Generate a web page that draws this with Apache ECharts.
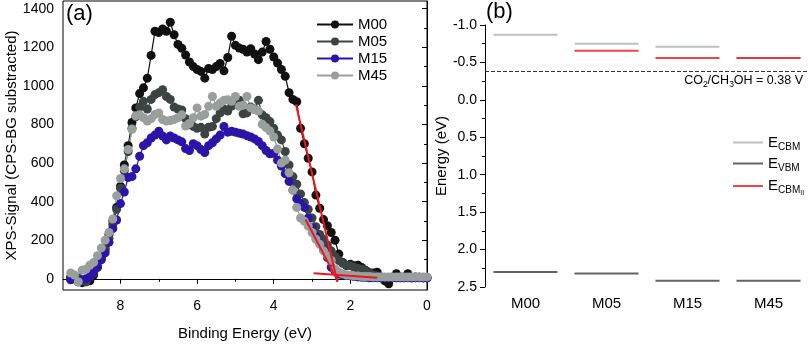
<!DOCTYPE html>
<html>
<head>
<meta charset="utf-8">
<script src="https://cdn.jsdelivr.net/npm/echarts@6/dist/echarts.min.js"></script>
<style>
  html, body { margin: 0; padding: 0; background: #fff; }
  #chart { width: 810px; height: 346px; }
</style>
</head>
<body>
<div id="chart"></div>
<script>
// panel (a): XPS valence band spectra
const energy = [
  9.3, 9.2, 9.1, 9.0, 8.9, 8.8, 8.7, 8.6, 8.5, 8.4,
  8.3, 8.2, 8.1, 8.0, 7.9, 7.8, 7.7, 7.6, 7.5, 7.4,
  7.3, 7.2, 7.1, 7.0, 6.9, 6.8, 6.7, 6.6, 6.5, 6.4,
  6.3, 6.2, 6.1, 6.0, 5.9, 5.8, 5.7, 5.6, 5.5, 5.4,
  5.3, 5.2, 5.1, 5.0, 4.9, 4.8, 4.7, 4.6, 4.5, 4.4,
  4.3, 4.2, 4.1, 4.0, 3.9, 3.8, 3.7, 3.6, 3.5, 3.4,
  3.3, 3.2, 3.1, 3.0, 2.9, 2.8, 2.7, 2.6, 2.5, 2.4,
  2.3, 2.2, 2.1, 2.0, 1.9, 1.8, 1.7, 1.6, 1.5, 1.4,
  1.3, 1.2, 1.1, 1.0, 0.9, 0.8, 0.7, 0.6, 0.5, 0.4,
  0.3, 0.2, 0.1, 0.0
];
const m00 = [
  10, 0, -15, -20, -15, -10, 20, 60, 110, 160,
  230, 300, 370, 480, 590, 690, 810, 886, 960, 990,
  1040, 1158, 1283, 1277, 1295, 1283, 1330, 1265, 1215, 1195,
  1160, 1124, 1100, 1085, 1075, 1040, 1090, 1085, 1100, 1116,
  1078, 1147, 1257, 1210, 1196, 1190, 1175, 1193, 1165, 1136,
  1175, 1230, 1190, 1150, 1118, 1085, 1050, 965, 930, 918,
  780, 700, 625, 554, 434, 366, 307, 275, 240, 200,
  128, 85, 68, 75, 68, 70, 58, 43, 32, 30,
  34, 5, -10, -26, 8, 26, 5, 10, 26, 5,
  10, 8, 5, 5
];
const m05 = [
  0, 10, 5, -10, -15, 10, 30, 60, 100, 150,
  210, 280, 360, 470, 560, 660, 780, 840, 890, 920,
  880, 930, 955, 965, 980, 945, 930, 890, 880, 875,
  830, 800, 790, 780, 785, 750, 785, 790, 830, 860,
  880, 870, 895, 905, 925, 855, 860, 890, 880, 925,
  850, 835, 815, 780, 745, 720, 660, 590, 530, 490,
  440, 395, 360, 315, 270, 230, 205, 175, 145, 115,
  95, 80, 70, 68, 60, 55, 50, 40, 30, 20,
  15, 10, 5, 5, 8, 5, 10, 5, 8, 5,
  5, 8, 5, 5
];
const m15 = [
  -5, 0, -15, -5, 0, 10, 35, 65, 100, 135,
  190, 260, 305, 390, 450, 525, 530, 570, 635, 690,
  705, 730, 745, 765, 740, 720, 740, 730, 720, 710,
  675, 665, 700, 690, 670, 655, 690, 705, 725, 745,
  790, 760, 765, 760, 755, 750, 742, 735, 725, 712,
  690, 665, 648, 650, 615, 585, 545, 505, 460, 415,
  390, 370, 315, 265, 220, 185, 150, 110, 60, 40,
  25, 20, 17, 15, 12, 10, 8, 8, 5, 5,
  5, 5, 5, 5, 5, 5, 5, 5, 5, 5,
  5, 5, 5, 5
];
const m45 = [
  30, 20, -15, 45, 50, 70, 85, 120, 160, 200,
  240, 310, 430, 520, 570, 670, 775, 845, 850, 835,
  818, 830, 852, 860, 826, 818, 820, 826, 835, 850,
  792, 805, 835, 886, 843, 852, 894, 945, 894, 911,
  925, 928, 920, 945, 894, 900, 945, 886, 877, 870,
  801, 784, 766, 735, 673, 600, 615, 550, 460, 370,
  315, 298, 273, 240, 205, 179, 145, 120, 95, 51,
  35, 26, 20, 18, 15, 15, 12, 12, 12, 10,
  10, 10, 10, 10, 10, 10, 10, 10, 10, 10,
  10, 10, 10, 10
];
// linear fits for the band edges
const fitEdge1 = [[3.42, 903], [2.34, -17]];
const fitEdge2 = [[3.17, 307], [2.33, -12]];
const fitBase = [[2.96, 29], [1.30, 5]];

// panel (b): band positions
const samples = ['M00', 'M05', 'M15', 'M45'];
const eCBM = [-0.87, -0.75, -0.71, -0.56];
const eVBM = [2.30, 2.32, 2.415, 2.415];
const eCBM2 = ['-', -0.655, -0.56, -0.56];
const redox = -0.38;

const font = '"Liberation Sans", Arial, sans-serif';
const chart = echarts.init(document.getElementById('chart'));

const pairs = (ys) => energy.map((e, i) => [e, ys[i]]);
const spectrum = (name, ys, color) => ({
  name,
  type: 'line',
  xAxisIndex: 0,
  yAxisIndex: 0,
  data: pairs(ys),
  symbol: 'circle',
  symbolSize: 9,
  itemStyle: { color },
  lineStyle: { color, width: 1.2 },
});
const fit = (pts) => ({
  type: 'line',
  xAxisIndex: 0,
  yAxisIndex: 0,
  data: pts,
  symbol: 'none',
  lineStyle: { color: '#f2141a', width: 2 },
  z: 5,
});
const level = (name, ys, color) => ({
  name,
  type: 'scatter',
  xAxisIndex: 2,
  yAxisIndex: 2,
  data: ys,
  symbol: 'rect',
  symbolSize: [64, 2],
  itemStyle: { color },
});

const subRich = {
  a: { fontSize: 15, lineHeight: 18, fontFamily: font, color: '#000' },
  b: { fontSize: 10, lineHeight: 10, padding: [9, 0, 0, 0], fontFamily: font, color: '#000' },
  c: { fontSize: 7, lineHeight: 7, padding: [15, 0, 0, 0], fontFamily: font, color: '#000' },
};
const lbl = { fontFamily: font, color: '#000' };

chart.setOption({
  animation: false,
  textStyle: { fontFamily: font, color: '#000' },
  grid: [
    { left: 63, right: 383, top: 1, bottom: 53, show: true, borderColor: '#000', borderWidth: 1 },
    { left: 485, right: 1, top: 25, bottom: 59 },
  ],
  xAxis: [
    {
      gridIndex: 0,
      type: 'value',
      min: 0,
      max: 9.5,
      inverse: true,
      name: 'Binding Energy (eV)',
      nameLocation: 'middle',
      nameGap: 36,
      nameTextStyle: Object.assign({ fontSize: 15 }, lbl),
      axisLine: { lineStyle: { color: '#000' } },
      axisTick: { inside: false, length: 5, customValues: [0, 2, 4, 6, 8], lineStyle: { color: '#000' } },
      axisLabel: Object.assign({ customValues: [0, 2, 4, 6, 8], fontSize: 14, margin: 9 }, lbl),
      splitLine: { show: false },
    },
    {
      gridIndex: 0,
      type: 'value',
      position: 'bottom',
      min: 0,
      max: 9.5,
      inverse: true,
      axisLine: { show: false },
      axisTick: { length: 3, customValues: [1, 3, 5, 7, 9], lineStyle: { color: '#000' } },
      axisLabel: { show: false },
      splitLine: { show: false },
    },
    {
      gridIndex: 1,
      type: 'category',
      data: samples,
      axisLine: { show: false },
      axisTick: { show: false },
      axisLabel: Object.assign({ fontSize: 15, margin: 9 }, lbl),
      splitLine: { show: false },
    },
  ],
  yAxis: [
    {
      gridIndex: 0,
      type: 'value',
      min: -58,
      max: 1440,
      name: 'XPS-Signal (CPS-BG substracted)',
      nameLocation: 'middle',
      nameGap: 41,
      nameTextStyle: Object.assign({ fontSize: 15 }, lbl),
      axisLine: { show: true, lineStyle: { color: '#000' } },
      axisTick: { show: true, length: 5, customValues: [0, 200, 400, 600, 800, 1000, 1200, 1400], lineStyle: { color: '#000' } },
      axisLabel: Object.assign({
        customValues: [0, 200, 400, 600, 800, 1000, 1200, 1400],
        fontSize: 14,
        margin: 9,
        formatter: (v) => String(v),
      }, lbl),
      splitLine: { show: false },
    },
    {
      gridIndex: 0,
      type: 'value',
      position: 'left',
      min: -58,
      max: 1440,
      axisLine: { show: false },
      axisTick: { show: true, length: 3, customValues: [100, 300, 500, 700, 900, 1100, 1300], lineStyle: { color: '#000' } },
      axisLabel: { show: false },
      splitLine: { show: false },
    },
    {
      gridIndex: 1,
      type: 'value',
      min: -1,
      max: 2.5,
      interval: 0.5,
      inverse: true,
      name: 'Energy (eV)',
      nameLocation: 'middle',
      nameGap: 34,
      nameTextStyle: Object.assign({ fontSize: 15 }, lbl),
      axisLine: { show: true, lineStyle: { color: '#000' } },
      axisTick: { show: true, length: 5, lineStyle: { color: '#000' } },
      minorTick: { show: true, splitNumber: 2, length: 3, lineStyle: { color: '#000' } },
      axisLabel: Object.assign({ fontSize: 14, margin: 8, formatter: (v) => v.toFixed(1) }, lbl),
      splitLine: { show: false },
    },
  ],
  legend: [
    {
      data: ['M00', 'M05', 'M15', 'M45'],
      orient: 'vertical',
      left: 311,
      top: 12,
      itemWidth: 36,
      itemHeight: 10,
      itemGap: 2,
      textStyle: Object.assign({ fontSize: 15 }, lbl),
    },
    {
      data: [
        { name: 'ECBM', icon: 'rect' },
        { name: 'EVBM', icon: 'rect' },
        { name: 'ECBMII', icon: 'rect' },
      ],
      orient: 'vertical',
      left: 728,
      top: 128,
      itemWidth: 30,
      itemHeight: 2,
      itemGap: 2,
      formatter: (n) => ({
        ECBM: '{a|E}{b|CBM}',
        EVBM: '{a|E}{b|VBM}',
        ECBMII: '{a|E}{b|CBM}{c|II}',
      })[n],
      textStyle: { fontFamily: font, rich: subRich },
    },
  ],
  graphic: [
    { type: 'text', left: 66, top: 3, style: { text: '(a)', font: '22px ' + font, fill: '#000' } },
    { type: 'text', left: 486, top: 1, style: { text: '(b)', font: '22px ' + font, fill: '#000' } },
    {
      type: 'text',
      right: 7,
      top: 73,
      style: {
        text: '{a|CO}{b|2}{a|/CH}{b|3}{a|OH = 0.38 V}',
        rich: {
          a: { fontSize: 12.5, lineHeight: 15, fontFamily: font, fill: '#000' },
          b: { fontSize: 8.5, lineHeight: 9, padding: [7, 0, 0, 0], fontFamily: font, fill: '#000' },
        },
      },
    },
  ],
  series: [
    spectrum('M00', m00, '#111111'),
    spectrum('M05', m05, '#3b4442'),
    spectrum('M15', m15, '#2c14a8'),
    spectrum('M45', m45, '#989f9d'),
    fit(fitEdge1),
    fit(fitEdge2),
    fit(fitBase),
    Object.assign(level('ECBM', eCBM, '#a8b1b0'), {
      markLine: {
        silent: true,
        symbol: 'none',
        label: { show: false },
        lineStyle: { type: 'dashed', color: '#333', width: 1 },
        data: [{ yAxis: redox }],
      },
    }),
    level('EVBM', eVBM, '#3a3d3d'),
    level('ECBMII', eCBM2, '#f2141a'),
  ],
});

window.addEventListener('resize', () => {
  chart.resize();
});
</script>
</body>
</html>
